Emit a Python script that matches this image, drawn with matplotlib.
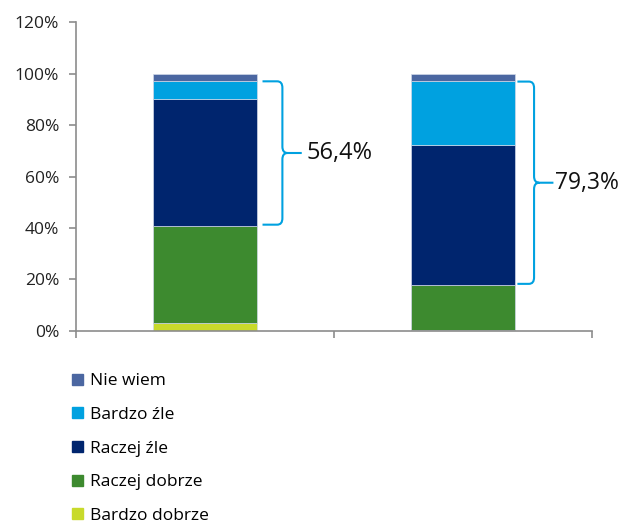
import numpy as np
import matplotlib.pyplot as plt
from matplotlib.path import Path
from matplotlib.patches import PathPatch, Patch

plt.rcParams['font.family'] = ['Open Sans', 'DejaVu Sans']

# data (percent), two groups
groups = ['', '']
series = ['Bardzo dobrze', 'Raczej dobrze', 'Raczej źle', 'Bardzo źle', 'Nie wiem']
values = {
    'Bardzo dobrze': [3.0, 0.3],
    'Raczej dobrze': [37.8, 17.5],
    'Raczej źle':    [49.3, 54.4],
    'Bardzo źle':    [7.1, 24.9],
    'Nie wiem':      [2.8, 2.9],
}
brace_labels = ['56,4%', '79,3%']
colors = ['#c8da2b', '#3d8a2f', '#00256e', '#00a1e0', '#4b67a1']

fig = plt.figure(figsize=(6.22, 5.27), dpi=100)
ax = fig.add_axes([0.122, 0.372, 0.830, 0.586])

x = np.arange(len(groups))
bottom = np.zeros(len(groups))
handles = []
for name, c in zip(series, colors):
    v = np.array(values[name])
    ax.bar(x, v, 0.4, bottom=bottom, color=c, edgecolor='#d0d8e8', linewidth=0.5)
    bottom += v
    handles.append(Patch(color=c, label=name))

# braces around Raczej źle + Bardzo źle
def brace(ax, x0, x1, x2, ylo, yhi, dx=0.02, r=2.5):
    ym = (ylo + yhi) / 2
    verts = [(x0, yhi), (x1 - dx, yhi), (x1, yhi), (x1, yhi - r),
             (x1, ym + r), (x1, ym), (x1 + dx, ym), (x2, ym),
             (x1 + dx, ym), (x1, ym), (x1, ym - r),
             (x1, ylo + r), (x1, ylo), (x1 - dx, ylo), (x0, ylo)]
    codes = [Path.MOVETO, Path.LINETO, Path.CURVE3, Path.CURVE3,
             Path.LINETO, Path.CURVE3, Path.CURVE3, Path.LINETO,
             Path.MOVETO, Path.CURVE3, Path.CURVE3,
             Path.LINETO, Path.CURVE3, Path.CURVE3, Path.LINETO]
    ax.add_patch(PathPatch(Path(verts, codes), fill=False, edgecolor='#00a1e0', lw=1.5))
    return ym

for i in range(len(groups)):
    lo = values['Bardzo dobrze'][i] + values['Raczej dobrze'][i]
    hi = lo + values['Raczej źle'][i] + values['Bardzo źle'][i]
    off = 0.0 if i == 0 else -0.025
    ym = brace(ax, i + 0.223 + off * 0.5, i + 0.3 + off, i + 0.375 + off, lo + 0.5, hi - 0.2)
    ax.text(i + 0.392 + off * 1.5, ym, brace_labels[i], fontsize=17 if i == 0 else 16.5,
            va='center', ha='left', color='#111111')

ax.set_xlim(-0.5, 1.5)
ax.set_ylim(0, 120)
ax.set_yticks(np.arange(0, 121, 20))
ax.set_yticklabels(['%d%%' % t for t in range(0, 121, 20)], fontsize=12.5, color='#222222')
ax.set_xticks([-0.5, 0.5, 1.5])
ax.set_xticklabels(['', '', ''])
for s in ['top', 'right']:
    ax.spines[s].set_visible(False)
for s in ['left', 'bottom']:
    ax.spines[s].set_color('#8c8c8c')
    ax.spines[s].set_linewidth(1.2)
ax.tick_params(axis='both', color='#8c8c8c', length=5, width=1.2)
ax.tick_params(axis='y', pad=7)

fig.legend(handles=handles[::-1], loc='upper left', bbox_to_anchor=(0.105, 0.305),
           frameon=False, fontsize=12.5, handlelength=0.6, handleheight=0.6,
           handletextpad=0.4, labelspacing=1.02, borderaxespad=0)

fig.savefig('out.png', dpi=100)
